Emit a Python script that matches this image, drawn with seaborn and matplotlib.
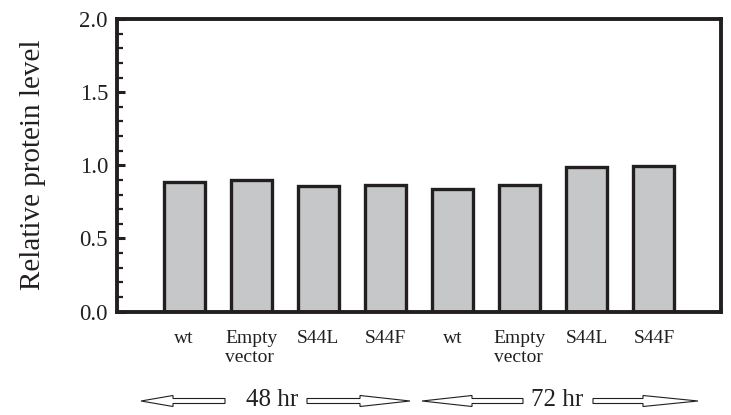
import numpy as np
import pandas as pd
import matplotlib
matplotlib.use("Agg")
import matplotlib.pyplot as plt
from matplotlib.patches import FancyArrow
from matplotlib.ticker import MultipleLocator
import seaborn as sns

# ---- data ----
groups = ["48 hr", "48 hr", "48 hr", "48 hr", "72 hr", "72 hr", "72 hr", "72 hr"]
constructs = ["wt", "Empty\nvector", "S44L", "S44F", "wt", "Empty\nvector", "S44L", "S44F"]
values = [0.884, 0.898, 0.857, 0.864, 0.839, 0.866, 0.985, 0.996]
group_labels = ["48 hr", "72 hr"]
y_label = "Relative protein level"

keys = [f"{g}|{c}" for g, c in zip(groups, constructs)]
df = pd.DataFrame({"key": keys, "value": values})

sns.set_theme(style="white")
plt.rcParams["font.family"] = ["Liberation Serif", "DejaVu Serif"]

W, H = 731, 415
fig = plt.figure(figsize=(W / 100, H / 100), dpi=100)
ax = fig.add_axes([117 / W, 1 - 311.5 / H, (721 - 117) / W, (311.5 - 19) / H])

edge = "#231f20"
sns.barplot(data=df, x="key", y="value", order=keys, color="#c6c7c9",
            saturation=1, edgecolor=edge, linewidth=2.4, width=0.61,
            errorbar=None, ax=ax)

ax.set_xlim(-1, 8)
ax.set_ylim(0, 2.0)
ax.set_xticks(range(len(keys)))
ax.set_xticklabels(constructs, fontsize=14, color="#231f20", linespacing=1.2)
for t in ax.get_xticklabels():
    t.set_multialignment("left")
ax.tick_params(axis="x", length=0, pad=13)
ax.set_xlabel("")

ax.yaxis.set_major_locator(MultipleLocator(0.5))
ax.yaxis.set_minor_locator(MultipleLocator(0.1))
ax.set_yticks([0, 0.5, 1.0, 1.5, 2.0])
ax.set_yticklabels(["0.0", "0.5", "1.0", "1.5", "2.0"])
ax.tick_params(axis="y", which="major", direction="in", length=6, width=2.2,
               labelsize=16.5, pad=6.5, color=edge, labelcolor="#231f20", left=True)
ax.tick_params(axis="y", which="minor", direction="in", length=4, width=1.6,
               color=edge, left=True)
ax.set_ylabel(y_label, fontsize=21, labelpad=24, color="#231f20")

for s in ax.spines.values():
    s.set_visible(True)
    s.set_linewidth(2.8)
    s.set_color(edge)

# ---- overlay for time-group annotations (pixel coords) ----
ov = fig.add_axes([0, 0, 1, 1], facecolor="none")
ov.set_xlim(0, W)
ov.set_ylim(H, 0)
ov.axis("off")

ov.text(272.5, 406, group_labels[0], fontsize=18, ha="center", va="baseline", color="#231f20")
ov.text(557.5, 406, group_labels[1], fontsize=18, ha="center", va="baseline", color="#231f20")

arrows = [  # (tail_x, tip_x, head_length)
    (225, 141, 32),
    (307, 410, 50),
    (523, 422, 50),
    (593, 698, 55),
]
for tail, tip, hl in arrows:
    ov.add_patch(FancyArrow(tail, 401, tip - tail, 0, width=5, head_width=11,
                            head_length=hl, length_includes_head=True,
                            fc="white", ec=edge, lw=0.8))

fig.savefig("out.png", dpi=100)
